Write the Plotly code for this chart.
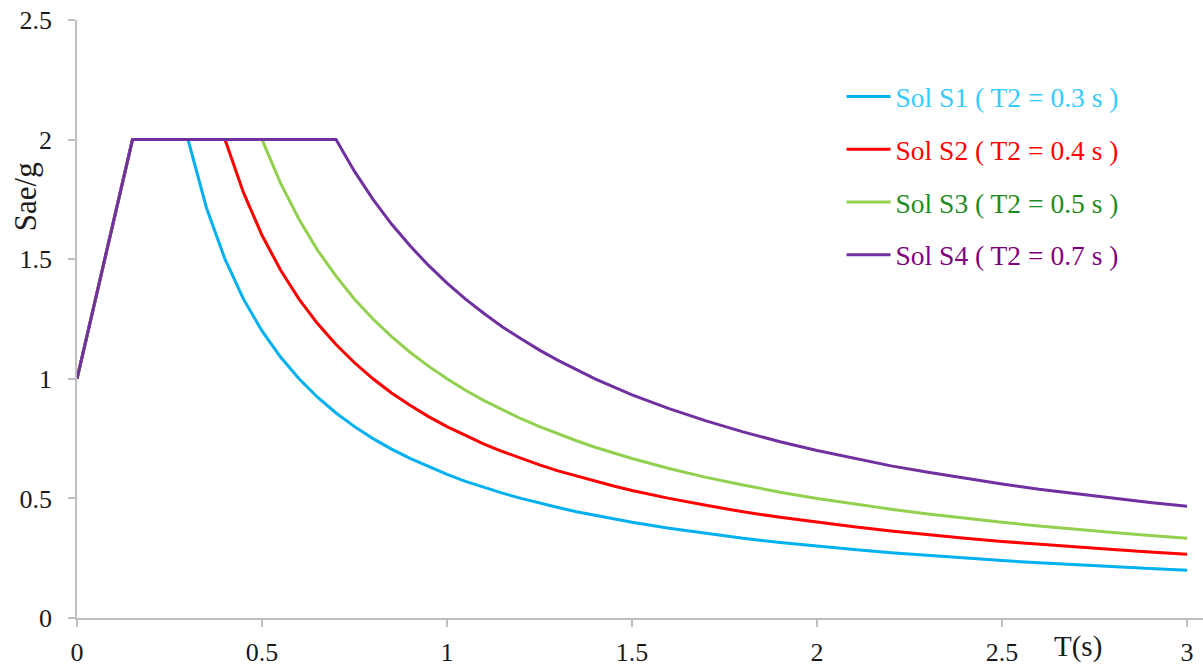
import plotly.graph_objects as go

# Period grid (s) for the descending branch of the spectra
T_GRID = [0.30, 0.35, 0.40, 0.45, 0.50, 0.55, 0.60, 0.65, 0.70, 0.75,
          0.80, 0.85, 0.90, 0.95, 1.00, 1.05, 1.10, 1.15, 1.20, 1.25,
          1.30, 1.35, 1.40, 1.45, 1.50, 1.6, 1.7, 1.8, 1.9, 2.0,
          2.1, 2.2, 2.3, 2.4, 2.5, 2.6, 2.7, 2.8, 2.9, 3.0]

# Ascending branch and start of the plateau (shared by all soils)
T_RISE = [0.0, 0.15]
SA_RISE = [1.0, 2.0]

# Corner period T2 of each soil class
T2 = {"S1": 0.30, "S2": 0.40, "S3": 0.50, "S4": 0.70}

# Sae/g on the descending branch, starting at each soil's T2
SA_S1 = [2.000, 1.714, 1.500, 1.333, 1.200, 1.091, 1.000, 0.923, 0.857, 0.800,
         0.750, 0.706, 0.667, 0.632, 0.600, 0.571, 0.545, 0.522, 0.500, 0.480,
         0.462, 0.444, 0.429, 0.414, 0.400, 0.375, 0.353, 0.333, 0.316, 0.300,
         0.286, 0.273, 0.261, 0.250, 0.240, 0.231, 0.222, 0.214, 0.207, 0.200]
SA_S2 = [2.000, 1.778, 1.600, 1.455, 1.333, 1.231, 1.143, 1.067,
         1.000, 0.941, 0.889, 0.842, 0.800, 0.762, 0.727, 0.696, 0.667, 0.640,
         0.615, 0.593, 0.571, 0.552, 0.533, 0.500, 0.471, 0.444, 0.421, 0.400,
         0.381, 0.364, 0.348, 0.333, 0.320, 0.308, 0.296, 0.286, 0.276, 0.267]
SA_S3 = [2.000, 1.818, 1.667, 1.538, 1.429, 1.333,
         1.250, 1.176, 1.111, 1.053, 1.000, 0.952, 0.909, 0.870, 0.833, 0.800,
         0.769, 0.741, 0.714, 0.690, 0.667, 0.625, 0.588, 0.556, 0.526, 0.500,
         0.476, 0.455, 0.435, 0.417, 0.400, 0.385, 0.370, 0.357, 0.345, 0.333]
SA_S4 = [2.000, 1.867,
         1.750, 1.647, 1.556, 1.474, 1.400, 1.333, 1.273, 1.217, 1.167, 1.120,
         1.077, 1.037, 1.000, 0.966, 0.933, 0.875, 0.824, 0.778, 0.737, 0.700,
         0.667, 0.636, 0.609, 0.583, 0.560, 0.538, 0.519, 0.500, 0.483, 0.467]

SERIES = [
    ("S1", SA_S1, "#00B0F0", "#33CCFF"),
    ("S2", SA_S2, "#FF0000", "#FF0000"),
    ("S3", SA_S3, "#92D050", "#1E8C1E"),
    ("S4", SA_S4, "#7030A0", "#800080"),
]

X_TICKS = [0, 0.5, 1, 1.5, 2, 2.5, 3]
Y_TICKS = [0, 0.5, 1, 1.5, 2, 2.5]

FONT = "Liberation Serif, Times New Roman, serif"
TEXT = "#1a1a1a"

fig = go.Figure()
for soil, values, line_color, text_color in SERIES:
    t2 = T2[soil]
    tail_t = [t for t in T_GRID if t >= t2 - 1e-9]
    xs = T_RISE + tail_t
    ys = SA_RISE + values
    label = (f"<span style='color:{text_color}'>Sol {soil} ( T2 = "
             f"{t2:g} s )</span>")
    fig.add_trace(go.Scatter(
        x=xs, y=ys, mode="lines", name=label,
        line=dict(color=line_color, width=3),
        legendgroup=soil,
    ))

axis_common = dict(
    showgrid=False, zeroline=False, showline=True,
    linecolor="#BFBFBF", linewidth=1.5,
    ticks="outside", ticklen=7, tickcolor="#BFBFBF", tickwidth=1.5,
    tickfont=dict(family=FONT, size=26, color=TEXT),
)

fig.update_layout(
    width=1203, height=666,
    margin=dict(l=77, r=0, t=20, b=48),
    paper_bgcolor="white", plot_bgcolor="white",
    font=dict(family=FONT, size=26, color=TEXT),
    xaxis=dict(range=[0, 3.043], tickvals=X_TICKS,
               ticktext=[f"{v:g}" for v in X_TICKS],
               ticklabelstandoff=3, **axis_common),
    yaxis=dict(range=[0, 2.5], tickvals=Y_TICKS,
               ticktext=[f"{v:g}" for v in Y_TICKS],
               ticklabelstandoff=11, **axis_common),
    legend=dict(x=0.679, y=0.913, xanchor="left", yanchor="top",
                font=dict(family=FONT, size=27.5),
                itemwidth=44,
                tracegroupgap=14, bgcolor="rgba(0,0,0,0)"),
    showlegend=True,
    annotations=[
        dict(text="T(s)", xref="paper", yref="paper", x=0.889, y=-0.047,
             showarrow=False, xanchor="center", yanchor="middle",
             font=dict(family=FONT, size=29, color=TEXT)),
        dict(text="Sae/g", xref="paper", yref="paper", x=-0.046, y=0.704,
             showarrow=False, xanchor="center", yanchor="middle",
             textangle=-90,
             font=dict(family=FONT, size=31, color=TEXT)),
    ],
)

fig.write_html("out.html")
